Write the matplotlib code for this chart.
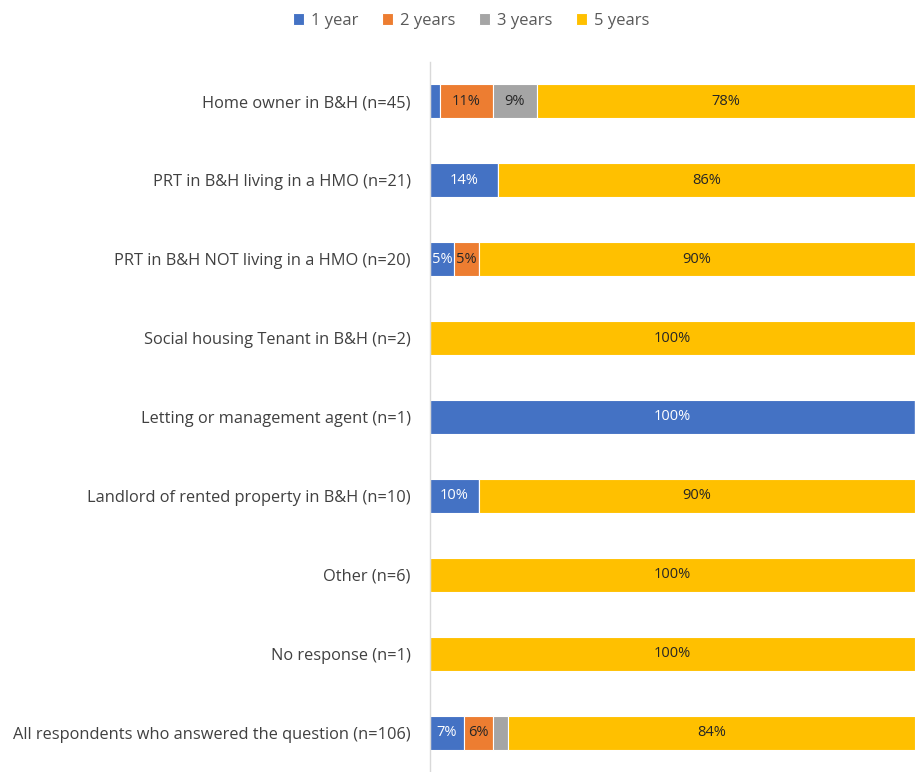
import matplotlib
matplotlib.use("Agg")
import matplotlib.pyplot as plt
import numpy as np

plt.rcParams['font.family'] = ['Open Sans', 'DejaVu Sans']

categories = [
    "Home owner in B&H (n=45)",
    "PRT in B&H living in a HMO (n=21)",
    "PRT in B&H NOT living in a HMO (n=20)",
    "Social housing Tenant in B&H (n=2)",
    "Letting or management agent (n=1)",
    "Landlord of rented property in B&H (n=10)",
    "Other (n=6)",
    "No response (n=1)",
    "All respondents who answered the question (n=106)",
]
series_names = ["1 year", "2 years", "3 years", "5 years"]
one_year = [2, 14, 5, 0, 100, 10, 0, 0, 7]
two_years = [11, 0, 5, 0, 0, 0, 0, 0, 6]
three_years = [9, 0, 0, 0, 0, 0, 0, 0, 3]
five_years = [78, 86, 90, 100, 0, 90, 100, 100, 84]

colors = ["#4472C4", "#ED7D31", "#A5A5A5", "#FFC000"]
label_colors = ["white", "#262626", "#262626", "#262626"]

fig = plt.figure(figsize=(9.15, 7.72), dpi=100)
ax = fig.add_axes([430/915, 0, 485/915, 710/772])

y = np.arange(len(categories))
left = np.zeros(len(categories))
for vals, name, c, lc in zip([one_year, two_years, three_years, five_years], series_names, colors, label_colors):
    vals = np.array(vals, dtype=float)
    bars = ax.barh(y, vals, left=left, height=0.43, color=c, edgecolor="white", linewidth=0.8, label=name)
    for b, v in zip(bars, vals):
        if v >= 5:
            ax.text(b.get_x() + b.get_width()/2, b.get_y() + b.get_height()/2, f"{int(v)}%",
                    ha="center", va="center", color=lc, fontsize=10.5)
    left += vals

ax.set_xlim(0, 100)
ax.set_ylim(len(categories) - 0.5, -0.5)
ax.set_yticks(y)
ax.set_yticklabels(categories, fontsize=11.8, color="#404040")
ax.tick_params(axis="y", length=0, pad=14)
ax.set_xticks([])
for s in ["top", "right", "bottom"]:
    ax.spines[s].set_visible(False)
ax.spines["left"].set_color("#D9D9D9")
ax.spines["left"].set_linewidth(1.0)

handles, labels = ax.get_legend_handles_labels()
fig.legend(handles, labels, loc="center", bbox_to_anchor=(471/915, 1 - 21/772), ncol=4, frameon=False,
           fontsize=12, handlelength=0.7, handleheight=0.7, handletextpad=0.4, columnspacing=1.4,
           labelcolor="#595959")

fig.savefig("out.png", dpi=100)
